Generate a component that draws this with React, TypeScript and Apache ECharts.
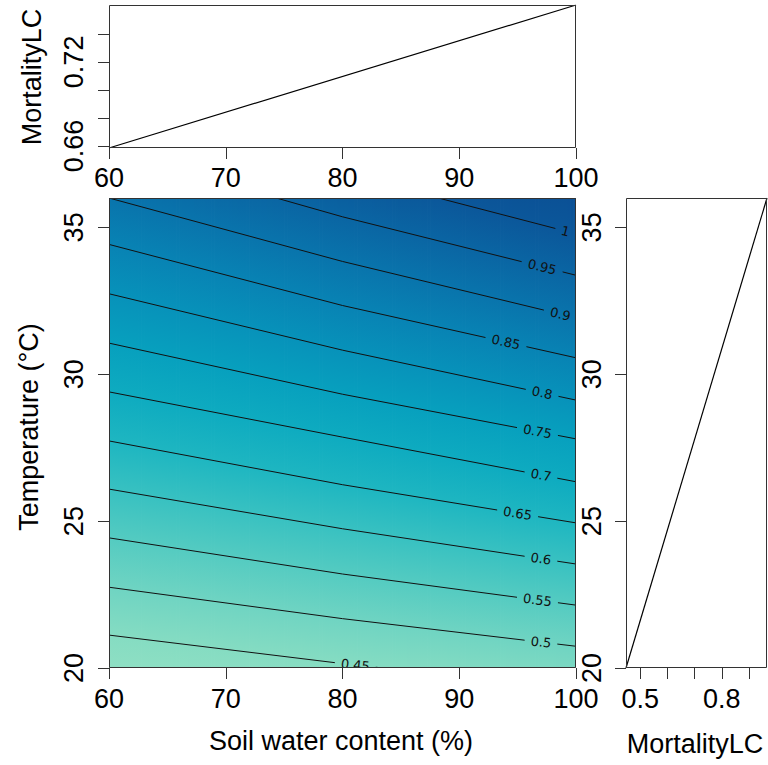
import React, { useEffect, useRef } from "react";
import * as echarts from "echarts";

// Axis ticks
const swcTicks = [60, 70, 80, 90, 100];
const tempTicks = [20, 25, 30, 35];

// Contour levels of MortalityLC and the temperature (°C) at which each level
// crosses soil water content 60 %, 80 % and 100 %
const contourSwc = [60, 80, 100];
const contourLevels = [0.45, 0.5, 0.55, 0.6, 0.65, 0.7, 0.75, 0.8, 0.85, 0.9, 0.95, 1];
const contourTemp60 = [21.12, 22.75, 24.43, 26.09, 27.73, 29.4, 31.06, 32.74, 34.42, 36.0, 37.62, 39.2];
const contourTemp80 = [20.15, 21.68, 23.2, 24.74, 26.24, 27.86, 29.32, 30.82, 32.34, 33.84, 35.36, 36.85];
const contourTemp100 = [19.28, 20.74, 22.14, 23.54, 24.94, 26.34, 27.8, 29.12, 30.56, 31.92, 33.37, 34.78];
// soil water content where each contour carries its label
const contourLabelSwc = [81.1, 97.0, 96.7, 97.0, 95.0, 97.0, 96.7, 97.1, 94.0, 98.65, 97.1, 99.1];

// Marginal effect: MortalityLC against soil water content
const topSwc = [60, 100];
const topMortality = [0.6585, 0.7606];
const topTicks = [0.66, 0.68, 0.7, 0.72, 0.74];
const topLabels = [0.66, 0.72];

// Marginal effect: MortalityLC against temperature
const rightTemp = [20, 36];
const rightMortality = [0.4474, 0.966];
const rightTicks = [0.5, 0.6, 0.7, 0.8, 0.9];
const rightLabels = [0.5, 0.8];

// Colour scale for the response surface
const paletteValues = [0.4, 0.45, 0.5, 0.55, 0.6, 0.65, 0.7, 0.75, 0.8, 0.85, 0.9, 0.95, 1.0, 1.1];
const paletteColors = [
  "#93e1c4", "#85dcc2", "#6fd4c2", "#54cbc1", "#38c1c1", "#1eb6c1", "#0eabc0",
  "#07a0be", "#0792ba", "#0883b4", "#0974ac", "#0a65a3", "#0b579a", "#0c478f",
];

const FONT = '"Liberation Sans", Arial, sans-serif';
const LABEL_FONT = '13px "DejaVu Sans"';
const AXIS_FONT_SIZE = 27;

const contourTemps = contourLevels.map((_, i) => [contourTemp60[i], contourTemp80[i], contourTemp100[i]]);

function tempAt(i: number, s: number): number {
  const t = contourTemps[i];
  const k = s <= contourSwc[1] ? 0 : 1;
  const f = (s - contourSwc[k]) / (contourSwc[k + 1] - contourSwc[k]);
  return t[k] + f * (t[k + 1] - t[k]);
}

function valueAt(s: number, t: number): number {
  const ts = contourLevels.map((_, i) => tempAt(i, s));
  let j = 0;
  while (j < ts.length - 2 && t > ts[j + 1]) j++;
  const f = (t - ts[j]) / (ts[j + 1] - ts[j]);
  return contourLevels[j] + f * (contourLevels[j + 1] - contourLevels[j]);
}

function hexToRgb(h: string): number[] {
  const n = parseInt(h.slice(1), 16);
  return [(n >> 16) & 255, (n >> 8) & 255, n & 255];
}
const paletteRgb = paletteColors.map(hexToRgb);

function colorFor(v: number): string {
  const vs = paletteValues;
  if (v <= vs[0]) return paletteColors[0];
  if (v >= vs[vs.length - 1]) return paletteColors[vs.length - 1];
  let j = 0;
  while (v > vs[j + 1]) j++;
  const f = (v - vs[j]) / (vs[j + 1] - vs[j]);
  const a = paletteRgb[j];
  const b = paletteRgb[j + 1];
  const c = a.map((x, k) => Math.round(x + f * (b[k] - x)));
  return `rgb(${c[0]},${c[1]},${c[2]})`;
}

let measureCtx: CanvasRenderingContext2D | null = null;
function textWidth(text: string): number {
  if (!measureCtx) measureCtx = document.createElement("canvas").getContext("2d");
  if (!measureCtx) return text.length * 7;
  measureCtx.font = LABEL_FONT;
  return measureCtx.measureText(text).width;
}

const tickStyle = { show: true, inside: false, length: 11, lineStyle: { color: "#333", width: 1 } };
const labelStyle = { fontSize: AXIS_FONT_SIZE, color: "#000", fontFamily: FONT };

function frameSeries(xi: number, yi: number, point: number[]) {
  return {
    type: "custom",
    xAxisIndex: xi,
    yAxisIndex: yi,
    z: 10,
    silent: true,
    data: [point],
    renderItem: (params: any) => {
      const cs = params.coordSys;
      return {
        type: "rect",
        shape: { x: cs.x + 0.5, y: cs.y + 0.5, width: cs.width - 1, height: cs.height - 1 },
        style: { fill: "none", stroke: "#333", lineWidth: 1 },
      };
    },
  };
}

export default function App() {
  const ref = useRef<HTMLDivElement>(null);

  useEffect(() => {
    if (!ref.current) return;
    const chart = echarts.init(ref.current, null, { renderer: "svg" });

    const surfaceSeries = {
      type: "custom",
      xAxisIndex: 1,
      yAxisIndex: 1,
      clip: true,
      silent: true,
      z: 1,
      data: [[60, 20]],
      renderItem: (_params: any, api: any) => {
        const children: any[] = [];
        const step = 0.25;
        for (let s = 60; s < 100; s += step) {
          const mid = s + step / 2;
          const p0 = api.coord([s, 36]);
          const p1 = api.coord([s + step, 20]);
          const stops: { offset: number; color: string }[] = [];
          stops.push({ offset: 0, color: colorFor(valueAt(mid, 36)) });
          const inner: { offset: number; color: string }[] = [];
          contourLevels.forEach((v, i) => {
            const t = tempAt(i, mid);
            if (t > 20 && t < 36) inner.push({ offset: (36 - t) / 16, color: colorFor(v) });
          });
          inner.sort((a, b) => a.offset - b.offset);
          stops.push(...inner);
          stops.push({ offset: 1, color: colorFor(valueAt(mid, 20)) });
          children.push({
            type: "rect",
            shape: { x: p0[0], y: p0[1], width: p1[0] - p0[0] + 0.8, height: p1[1] - p0[1] },
            style: { fill: new echarts.graphic.LinearGradient(0, 0, 0, 1, stops) },
          });
        }
        return { type: "group", children };
      },
    };

    const contourSeries = {
      type: "custom",
      xAxisIndex: 1,
      yAxisIndex: 1,
      clip: true,
      silent: true,
      z: 3,
      data: contourLevels.map((_, i) => [contourLabelSwc[i], tempAt(i, contourLabelSwc[i]), i]),
      renderItem: (_params: any, api: any) => {
        const i = api.value(2);
        const ls = contourLabelSwc[i];
        const c = api.coord([ls, tempAt(i, ls)]);
        const pxPerUnit = api.coord([61, 20])[0] - api.coord([60, 20])[0];
        const text = String(contourLevels[i]);
        const half = textWidth(text) / 2 + 6;
        const sL = ls - half / pxPerUnit;
        const sR = ls + half / pxPerUnit;
        const leftPts: number[][] = [];
        const rightPts: number[][] = [];
        contourSwc.forEach((s) => {
          if (s < sL) leftPts.push(api.coord([s, tempAt(i, s)]));
        });
        leftPts.push(api.coord([sL, tempAt(i, sL)]));
        rightPts.push(api.coord([sR, tempAt(i, sR)]));
        contourSwc.forEach((s) => {
          if (s > sR) rightPts.push(api.coord([s, tempAt(i, s)]));
        });
        const a = api.coord([ls - 1, tempAt(i, ls - 1)]);
        const b = api.coord([ls + 1, tempAt(i, ls + 1)]);
        const ang = Math.atan2(b[1] - a[1], b[0] - a[0]);
        const children: any[] = [
          { type: "polyline", shape: { points: leftPts }, style: { stroke: "#111", lineWidth: 1, fill: null } },
        ];
        if (rightPts.length > 1) {
          children.push({
            type: "polyline",
            shape: { points: rightPts },
            style: { stroke: "#111", lineWidth: 1, fill: null },
          });
        }
        children.push({
          type: "text",
          x: c[0],
          y: c[1],
          rotation: -ang,
          style: { text, font: LABEL_FONT, fill: "#111", align: "center", verticalAlign: "middle" },
        });
        return { type: "group", children };
      },
    };

    const titleFont = `${AXIS_FONT_SIZE}px ${FONT}`;

    const option: any = {
      animation: false,
      backgroundColor: "#fff",
      grid: [
        { left: 109, top: 5, width: 467, height: 143 },
        { left: 109, top: 198, width: 467, height: 470 },
        { left: 626, top: 198, width: 141, height: 470 },
      ],
      xAxis: [
        {
          gridIndex: 0, type: "value", min: 60, max: 100,
          axisLine: { show: false }, splitLine: { show: false },
          axisTick: { ...tickStyle, customValues: swcTicks },
          axisLabel: { ...labelStyle, margin: 16, customValues: swcTicks },
        },
        {
          gridIndex: 1, type: "value", min: 60, max: 100,
          axisLine: { show: false }, splitLine: { show: false },
          axisTick: { ...tickStyle, customValues: swcTicks },
          axisLabel: { ...labelStyle, margin: 17, customValues: swcTicks },
        },
        {
          gridIndex: 2, type: "value", min: rightMortality[0], max: rightMortality[1],
          axisLine: { show: false }, splitLine: { show: false },
          axisTick: { ...tickStyle, customValues: rightTicks },
          axisLabel: { ...labelStyle, margin: 17, customValues: rightLabels },
        },
      ],
      yAxis: [
        {
          gridIndex: 0, type: "value", min: topMortality[0], max: topMortality[1],
          axisLine: { show: false }, splitLine: { show: false },
          axisTick: { ...tickStyle, customValues: topTicks },
          axisLabel: { ...labelStyle, margin: 22, rotate: 90, customValues: topLabels },
        },
        {
          gridIndex: 1, type: "value", min: 20, max: 36,
          axisLine: { show: false }, splitLine: { show: false },
          axisTick: { ...tickStyle, customValues: tempTicks },
          axisLabel: { ...labelStyle, margin: 22, rotate: 90, customValues: tempTicks },
        },
        {
          gridIndex: 2, type: "value", min: 20, max: 36,
          axisLine: { show: false }, splitLine: { show: false },
          axisTick: { ...tickStyle, customValues: tempTicks },
          axisLabel: { ...labelStyle, margin: 21, rotate: 90, customValues: tempTicks },
        },
      ],
      graphic: [
        {
          type: "text", x: 341, y: 741,
          style: { text: "Soil water content (%)", font: titleFont, fill: "#000", align: "center", verticalAlign: "middle" },
        },
        {
          type: "text", x: 29, y: 427, rotation: Math.PI / 2,
          style: { text: "Temperature (°C)", font: titleFont, fill: "#000", align: "center", verticalAlign: "middle" },
        },
        {
          type: "text", x: 32, y: 77, rotation: Math.PI / 2,
          style: { text: "MortalityLC", font: titleFont, fill: "#000", align: "center", verticalAlign: "middle" },
        },
        {
          type: "text", x: 695, y: 744,
          style: { text: "MortalityLC", font: titleFont, fill: "#000", align: "center", verticalAlign: "middle" },
        },
      ],
      series: [
        {
          type: "line", xAxisIndex: 0, yAxisIndex: 0, symbol: "none", silent: true,
          lineStyle: { color: "#000", width: 1.2 },
          data: topSwc.map((s, i) => [s, topMortality[i]]),
        },
        surfaceSeries,
        contourSeries,
        {
          type: "line", xAxisIndex: 2, yAxisIndex: 2, symbol: "none", silent: true,
          lineStyle: { color: "#000", width: 1.2 },
          data: rightTemp.map((t, i) => [rightMortality[i], t]),
        },
        frameSeries(0, 0, [60, 0.7]),
        frameSeries(1, 1, [60, 20]),
        frameSeries(2, 2, [0.5, 25]),
      ],
    };

    chart.setOption(option);
    return () => chart.dispose();
  }, []);

  return (
    <div
      ref={ref}
      style={{ position: "absolute", left: 0, top: 0, width: 768, height: 765, background: "#fff" }}
    />
  );
}
